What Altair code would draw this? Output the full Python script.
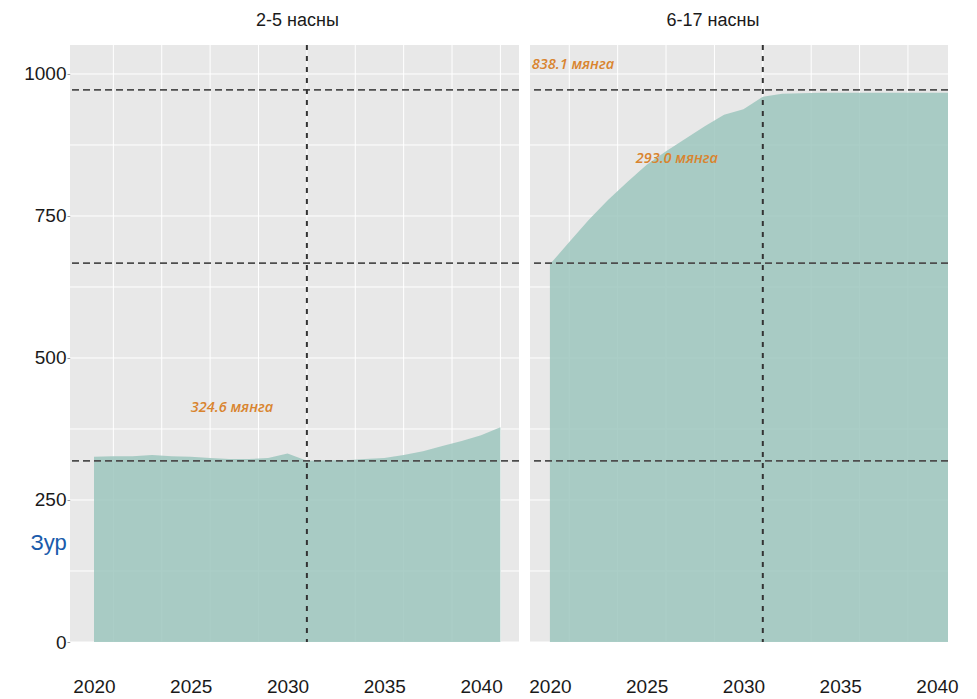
import altair as alt
import pandas as pd

# ---- data ----
years = list(range(2020, 2042))
age_2_5 = [326, 327, 327, 329, 327, 326, 324, 322, 322, 324, 332,
           319, 320, 320, 322, 324, 329, 336, 345, 354, 364, 378]
age_6_17 = [665, 704, 743, 778, 810, 840, 864, 886, 908, 928, 938,
            960, 965, 966, 967, 967, 967, 967, 967, 967, 967, 967]

panel_titles = ["2-5 насны", "6-17 насны"]
x_tick_labels = [2020, 2025, 2030, 2035, 2040]
y_tick_labels = [0, 250, 500, 750, 1000]
y_grid = [0, 125, 250, 375, 500, 625, 750, 875, 1000]
x_grid = [2021, 2023.5, 2026, 2028.5, 2031, 2033.5, 2036, 2038.5, 2041]
ref_levels = [319, 667, 972]
ref_year = [2031]

notes_left_text = ["324.6 мянга"]
notes_left_x = [2027.13]
notes_left_y = [412]
notes_right_text = ["838.1 мянга", "293.0 мянга"]
notes_right_x = [2021.19, 2026.56]
notes_right_y = [1016, 850]

FONT = "Liberation Sans"
BG = "#e8e8e8"


def panel(values, title, x_domain, width, show_y, title_dx, nt, nx, ny):
    df = pd.DataFrame({"year": years, "value": values})
    xs = alt.Scale(domain=x_domain, nice=False, zero=False)
    ys = alt.Scale(domain=[0, 1051], nice=False)

    x_axis = alt.Axis(values=x_tick_labels, format="d", grid=False, ticks=False,
                      domain=False, labelFontSize=19, labelPadding=35,
                      labelColor="#1a1a1a", labelFont=FONT, title=None)
    if show_y:
        y_axis = alt.Axis(values=y_tick_labels, format="d", grid=False, domain=False,
                          tickSize=3, tickColor="#999999", labelPadding=1,
                          labelFontSize=19, labelColor="#1a1a1a", labelFont=FONT,
                          title="Зур", titleAngle=0, titleX=-40, titleY=497,
                          titleAlign="left", titleBaseline="middle",
                          titleFontSize=22, titleColor="#1a5bab",
                          titleFontWeight="normal", titleFont=FONT)
    else:
        y_axis = None

    hgrid = alt.Chart(pd.DataFrame({"g": y_grid})).mark_rule(
        color="white", strokeWidth=1).encode(
        y=alt.Y("g:Q", scale=ys, axis=y_axis))
    vgrid = alt.Chart(pd.DataFrame({"g": x_grid})).mark_rule(
        color="white", strokeWidth=1).encode(
        x=alt.X("g:Q", scale=xs, axis=x_axis))
    area = alt.Chart(df).mark_area(color="#9cc5bd", opacity=0.85, clip=True).encode(
        x=alt.X("year:Q", scale=xs, axis=x_axis),
        y=alt.Y("value:Q", scale=ys, axis=y_axis))
    hdash = alt.Chart(pd.DataFrame({"r": ref_levels})).mark_rule(
        color="#4d4d4d", strokeWidth=1.8, strokeDash=[7, 4]).encode(
        y=alt.Y("r:Q", scale=ys, axis=y_axis))
    vdash = alt.Chart(pd.DataFrame({"r": ref_year})).mark_rule(
        color="#333333", strokeWidth=2, strokeDash=[5, 6]).encode(
        x=alt.X("r:Q", scale=xs, axis=x_axis))
    notes = alt.Chart(pd.DataFrame({"t": nt, "x": nx, "y": ny})).mark_text(
        font="Open Sans", fontStyle="italic", fontSize=14.5, fontWeight=600,
        color="#d9842f", align="center", baseline="middle").encode(
        x=alt.X("x:Q", scale=xs, axis=x_axis),
        y=alt.Y("y:Q", scale=ys, axis=y_axis),
        text="t:N")

    return alt.layer(hgrid, vgrid, area, hdash, vdash, notes).properties(
        width=width, height=597,
        title=alt.TitleParams(title, fontSize=18, font=FONT, fontWeight="normal",
                              color="#1a1a1a", offset=14, anchor="middle", dx=title_dx))


left = panel(age_2_5, panel_titles[0], [2018.76, 2041.96], 449, True, 3,
             notes_left_text, notes_left_x, notes_left_y)
right = panel(age_6_17, panel_titles[1], [2018.97, 2040.57], 418, False, -26,
              notes_right_text, notes_right_x, notes_right_y)

chart = alt.hconcat(left, right, spacing=8).properties(
    padding={"left": 15, "top": 4, "right": 5, "bottom": 0},
    background="white"
).configure_view(fill=BG, stroke=None)

chart.save("out.html", embed_options={"renderer": "svg", "actions": False})
